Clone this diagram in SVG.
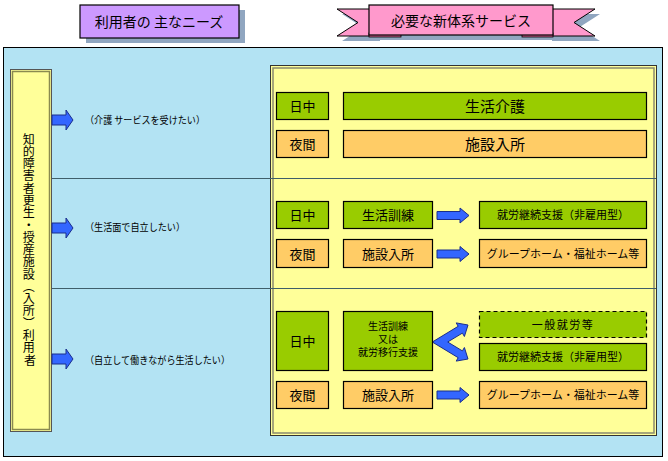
<svg xmlns="http://www.w3.org/2000/svg" width="668" height="461" viewBox="0 0 668 461">
<defs>
<style>
text{font-family:"Noto Sans CJK JP","Noto Sans CJK SC",sans-serif;fill:#000}
.box{stroke:#000;stroke-width:1.2}
.g{fill:#99CC00}
.o{fill:#FFCC66}
.t13{font-size:13px;text-anchor:middle}
.t15{font-size:15px;text-anchor:middle}
.t11{font-size:11px;text-anchor:middle}
.need{font-size:10px}
.arr{fill:#3366FF;stroke:#1A2E8C;stroke-width:1}
.sep{stroke:#3F5F6A;stroke-width:1}
.shadow{fill:#90A6C0}
</style>
</defs>

<!-- header: needs label -->
<g id="header-needs">
<rect x="86" y="10" width="159" height="33" class="shadow"/>
<rect x="80" y="5" width="159" height="33" fill="#CC99FF" stroke="#000" stroke-width="1.2"/>
<text x="159" y="27" font-size="14" text-anchor="middle">利用者の 主なニーズ</text>
</g>

<!-- header: services ribbon -->
<g id="header-services">
<g transform="translate(5,5)" class="shadow">
<polygon points="337,9 375,9 375,36 337,36 358,22.5"/>
<polygon points="547,9 595,9 574,22.5 595,36 547,36"/>
<rect x="369" y="5" width="184" height="30"/>
</g>
<polygon points="337,9 375,9 375,36 337,36 358,22.5" fill="#FF99CC" stroke="#000" stroke-width="1"/>
<polygon points="547,9 595,9 574,22.5 595,36 547,36" fill="#FF99CC" stroke="#000" stroke-width="1"/>
<rect x="369" y="33" width="32" height="4" fill="#CC5F8F" stroke="#000" stroke-width="0.8"/>
<rect x="522" y="33" width="31" height="4" fill="#CC5F8F" stroke="#000" stroke-width="0.8"/>
<rect x="369" y="5" width="184" height="30" fill="#FF99CC" stroke="#000" stroke-width="1.2"/>
<text x="461" y="26" font-size="14" text-anchor="middle">必要な新体系サービス</text>
</g>

<!-- main background -->
<g id="panel">
<rect x="3.5" y="47.5" width="659" height="409" fill="#B3E3F3" stroke="#000" stroke-width="1"/>
</g>

<!-- left user box -->
<g id="users">
<rect x="10.5" y="69.5" width="41" height="362" fill="#FFFF99" stroke="#555" stroke-width="1"/>
<rect x="12.5" y="71.5" width="37" height="358" fill="none" stroke="#8A8A50" stroke-width="1.5"/>
<text font-size="12" text-anchor="middle">
<tspan x="30" y="143.5">知</tspan>
<tspan x="30" y="155.8">的</tspan>
<tspan x="30" y="168.1">障</tspan>
<tspan x="30" y="180.3">害</tspan>
<tspan x="30" y="192.6">者</tspan>
<tspan x="30" y="204.9">更</tspan>
<tspan x="30" y="217.2">生</tspan>
<tspan x="30" y="229.5">・</tspan>
<tspan x="30" y="241.7">授</tspan>
<tspan x="30" y="254">産</tspan>
<tspan x="30" y="266.3">施</tspan>
<tspan x="30" y="278.6">設</tspan>
<tspan x="30" y="290.9">︵</tspan>
<tspan x="30" y="303.1">入</tspan>
<tspan x="30" y="315.4">所</tspan>
<tspan x="30" y="327.7">︶</tspan>
<tspan x="30" y="340">利</tspan>
<tspan x="30" y="352.3">用</tspan>
<tspan x="30" y="364.5">者</tspan>
</text>
</g>

<!-- right service area -->
<g id="services-area">
<rect x="270.5" y="65.5" width="386" height="370" fill="#FFFF99" stroke="#333" stroke-width="1"/>
<rect x="273" y="68" width="381" height="365" fill="none" stroke="#8A8A70" stroke-width="1.5"/>
</g>

<!-- separators and connectors -->
<g id="connectors">
<line x1="52" y1="178.5" x2="656" y2="178.5" class="sep"/>
<line x1="52" y1="288.5" x2="656" y2="288.5" class="sep"/>
<polygon class="arr" points="52,115 66,115 66,110 73,120 66,130 66,125 52,125"/>
<polygon class="arr" points="52,223 66,223 66,218 73,228 66,238 66,233 52,233"/>
<polygon class="arr" points="52,354 66,354 66,349 73,359 66,369 66,364 52,364"/>
<polygon class="arr" points="437,211.5 460,211.5 460,208 469,215.5 460,223 460,219.5 437,219.5"/>
<polygon class="arr" points="437,250 460,250 460,246.5 469,254 460,261.5 460,258 437,258"/>
<polygon class="arr" points="437,391 460,391 460,387.5 469,395 460,402.5 460,399 437,399"/>
<polygon class="arr" points="432.3,342 458.2,326.3 456.2,322.9 468,325 464.4,336.5 462.4,333.1 447.7,342 462.4,350.9 464.4,347.5 468,359 456.2,361.1 458.2,357.7"/>
</g>

<!-- need texts -->
<g id="needs">
<text class="need" x="85" y="124" textLength="120" lengthAdjust="spacingAndGlyphs">（介護 サービスを受けたい）</text>
<text class="need" x="85" y="231" textLength="100" lengthAdjust="spacingAndGlyphs">（生活面で自立したい）</text>
<text class="need" x="85" y="364" textLength="145" lengthAdjust="spacingAndGlyphs">（自立して働きながら生活したい）</text>
</g>

<!-- row 1 -->
<g id="r1-day"><rect class="box g" x="276.5" y="92.5" width="52" height="27"/><text class="t13" x="302.5" y="111">日中</text></g>
<g id="r1-day-service"><rect class="box g" x="343.5" y="92.5" width="303" height="27"/><text class="t15" x="495" y="111.5">生活介護</text></g>
<g id="r1-night"><rect class="box o" x="276.5" y="130.5" width="52" height="27"/><text class="t13" x="302.5" y="149">夜間</text></g>
<g id="r1-night-service"><rect class="box o" x="343.5" y="130.5" width="303" height="27"/><text class="t15" x="495" y="149.5">施設入所</text></g>

<!-- row 2 -->
<g id="r2-day"><rect class="box g" x="276.5" y="201.5" width="52" height="27"/><text class="t13" x="302.5" y="220">日中</text></g>
<g id="r2-day-service"><rect class="box g" x="343.5" y="201.5" width="89" height="27"/><text class="t13" x="388" y="220">生活訓練</text></g>
<g id="r2-day-next"><rect class="box g" x="479.5" y="201.5" width="167" height="27"/><text class="t11" x="563" y="219">就労継続支援（非雇用型）</text></g>
<g id="r2-night"><rect class="box o" x="276.5" y="239.5" width="52" height="28"/><text class="t13" x="302.5" y="258.5">夜間</text></g>
<g id="r2-night-service"><rect class="box o" x="343.5" y="239.5" width="89" height="28"/><text class="t13" x="388" y="258.5">施設入所</text></g>
<g id="r2-night-next"><rect class="box o" x="479.5" y="239.5" width="167" height="28"/><text class="t11" x="563" y="257.5">グループホーム・福祉ホーム等</text></g>

<!-- row 3 -->
<g id="r3-day"><rect class="box g" x="276.5" y="311.5" width="52" height="59"/><text class="t13" x="302.5" y="345.5">日中</text></g>
<g id="r3-day-service"><rect class="box g" x="343.5" y="311.5" width="89" height="59"/>
<text x="388" y="330" font-size="10" text-anchor="middle">生活訓練</text>
<text x="388" y="343" font-size="10" text-anchor="middle">又は</text>
<text x="388" y="356" font-size="10" text-anchor="middle">就労移行支援</text></g>
<g id="r3-general-work"><rect class="g" x="479.5" y="311.5" width="167" height="26" stroke="#000" stroke-width="1.2" stroke-dasharray="4,3"/><text class="t11" x="563" y="329" letter-spacing="1.5">一般就労等</text></g>
<g id="r3-continued"><rect class="box g" x="479.5" y="343.5" width="167" height="27"/><text class="t11" x="563" y="361">就労継続支援（非雇用型）</text></g>
<g id="r3-night"><rect class="box o" x="276.5" y="381.5" width="52" height="27"/><text class="t13" x="302.5" y="400">夜間</text></g>
<g id="r3-night-service"><rect class="box o" x="343.5" y="381.5" width="89" height="27"/><text class="t13" x="388" y="400">施設入所</text></g>
<g id="r3-night-next"><rect class="box o" x="479.5" y="381.5" width="167" height="27"/><text class="t11" x="563" y="399">グループホーム・福祉ホーム等</text></g>
</svg>
